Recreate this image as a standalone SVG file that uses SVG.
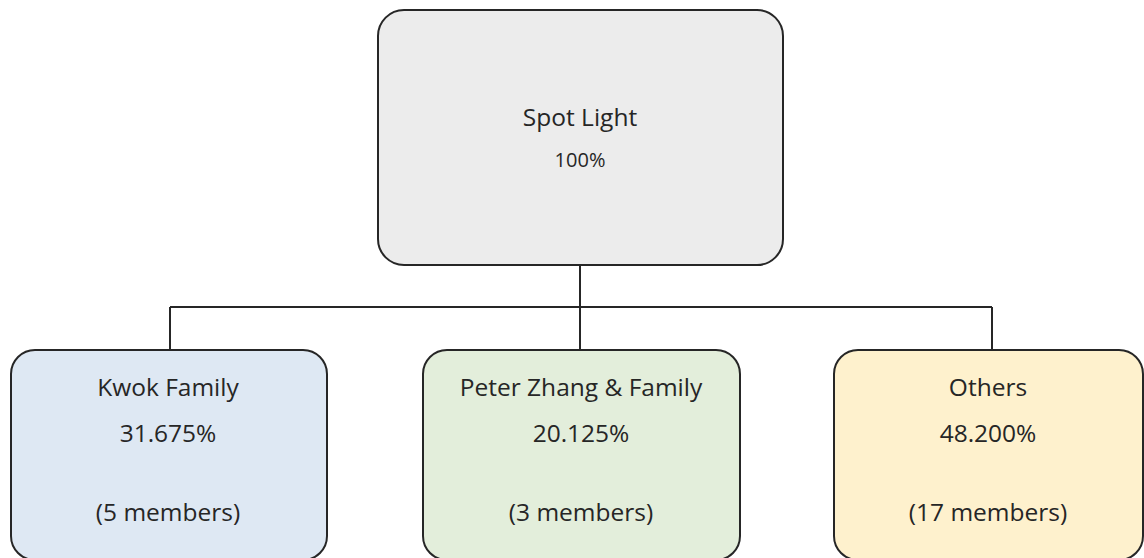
<svg xmlns="http://www.w3.org/2000/svg" width="1144" height="558" viewBox="0 0 1144 558">
<style>
.box{stroke:#262626;stroke-width:2}
.t{font-family:"Open Sans","Noto Sans",sans-serif;fill:#262626;text-anchor:middle}
.big{font-size:24.5px}
.mid{font-size:24.5px}
.sm{font-size:20px}
.conn{fill:none;stroke:#262626;stroke-width:2}
</style>
<rect width="1144" height="558" fill="#ffffff"/>
<g id="connectors">
<path class="conn" d="M580 265 V307 M170 307 H992 M170 307 V350 M580 307 V350 M992 307 V350"/>
</g>
<g id="spotlight">
<rect class="box" x="378" y="10" width="405" height="255" rx="26" fill="#ececec"/>
<text class="t big" x="580" y="126">Spot Light</text>
<text class="t sm" x="580" y="167">100%</text>
</g>
<g id="kwok">
<rect class="box" x="11" y="350" width="316" height="210" rx="24" fill="#dee8f3"/>
<text class="t mid" x="168" y="396">Kwok Family</text>
<text class="t mid" x="168" y="442">31.675%</text>
<text class="t mid" x="168" y="521">(5 members)</text>
</g>
<g id="zhang">
<rect class="box" x="423" y="350" width="317" height="210" rx="24" fill="#e3eedb"/>
<text class="t mid" x="581" y="396">Peter Zhang &amp; Family</text>
<text class="t mid" x="581" y="442">20.125%</text>
<text class="t mid" x="581" y="521">(3 members)</text>
</g>
<g id="others">
<rect class="box" x="834" y="350" width="309" height="210" rx="24" fill="#fef1cd"/>
<text class="t mid" x="988" y="396">Others</text>
<text class="t mid" x="988" y="442">48.200%</text>
<text class="t mid" x="988" y="521">(17 members)</text>
</g>
</svg>
